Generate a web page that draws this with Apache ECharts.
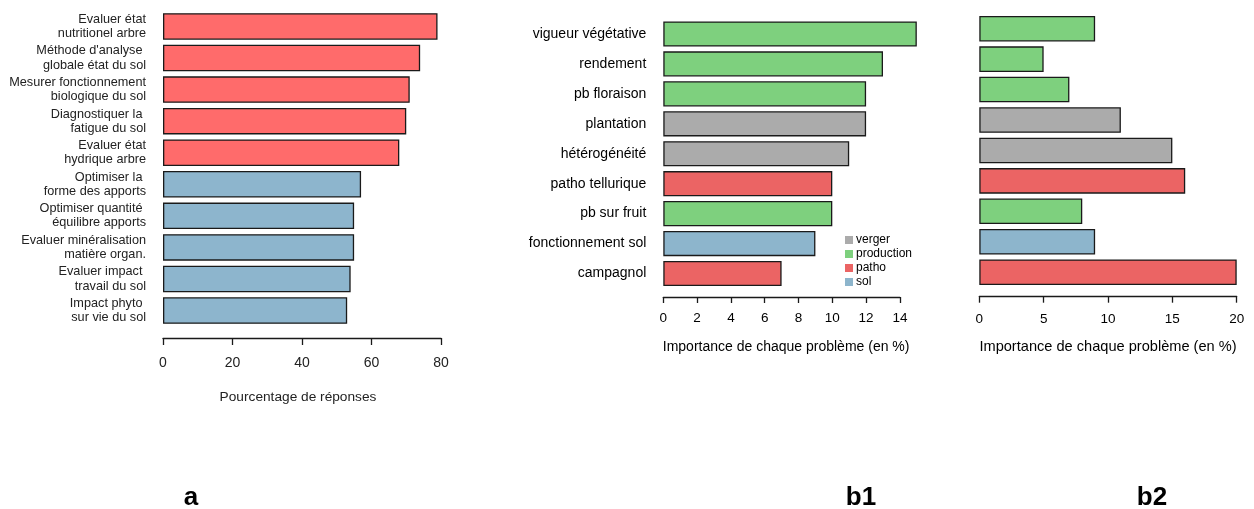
<!DOCTYPE html>
<html>
<head>
<meta charset="utf-8">
<script src="https://cdn.jsdelivr.net/npm/echarts@6/dist/echarts.min.js"></script>
<style>
html,body{margin:0;padding:0;background:#fff;}
#chart{width:1254px;height:509px;}
</style>
</head>
<body>
<div id="chart"></div>
<script>
// ---------- DATA ----------
var categoriesA = [
  "Evaluer état\nnutritionel arbre",
  "Méthode d'analyse \nglobale état du sol",
  "Mesurer fonctionnement\nbiologique du sol",
  "Diagnostiquer la \nfatigue du sol",
  "Evaluer état\nhydrique arbre",
  "Optimiser la \nforme des apports",
  "Optimiser quantité \néquilibre apports",
  "Evaluer minéralisation\nmatière organ.",
  "Evaluer impact \ntravail du sol",
  "Impact phyto \nsur vie du sol"
];
var valuesA = [79, 74, 71, 70, 68, 57, 55, 55, 54, 53];
var groupsA = ["g1", "g1", "g1", "g1", "g1", "g2", "g2", "g2", "g2", "g2"];
var ticksA = [0, 20, 40, 60, 80];

var categoriesB = [
  "vigueur végétative", "rendement", "pb floraison", "plantation",
  "hétérogénéité", "patho tellurique", "pb sur fruit",
  "fonctionnement sol", "campagnol"
];
var valuesB1 = [15, 13, 12, 12, 11, 10, 10, 9, 7];
var valuesB2 = [9, 5, 7, 11, 15, 16, 8, 9, 20];
var groupsB = ["production", "production", "production", "verger", "verger",
               "patho", "production", "sol", "patho"];
var legendB = ["verger", "production", "patho", "sol"];
var ticksB1 = [0, 2, 4, 6, 8, 10, 12, 14];
var ticksB2 = [0, 5, 10, 15, 20];

var titleA = "Pourcentage de réponses";
var titleB = "Importance de chaque problème (en %)";
var panelLabels = ["a", "b1", "b2"];

// ---------- STYLE ----------
var FONT = "Liberation Sans, Arial, sans-serif";
var colorsA = { g1: "#FF6B6B", g2: "#8DB5CD" };
var colorsB = { verger: "#ABABAB", production: "#7ED07E", patho: "#EB6464", sol: "#8DB5CC" };
var BORDER = { borderColor: "#1a1a1a", borderWidth: 1.3 };

function seriesForGroup(vals, xi, yi) {
  return legendB.map(function (g) {
    return {
      type: "bar", name: g, xAxisIndex: xi, yAxisIndex: yi,
      barGap: "-100%", barCategoryGap: "16%",
      itemStyle: Object.assign({ color: colorsB[g] }, BORDER),
      data: vals.map(function (v, i) { return groupsB[i] === g ? v : "-"; }),
      silent: true
    };
  });
}

var axisLineStyle = { lineStyle: { color: "#1a1a1a", width: 1.3 } };
var panelText = { fontFamily: FONT, fontWeight: "bold", fontSize: 26, color: "#000" };

var option = {
  backgroundColor: "#fff",
  animation: false,
  textStyle: { fontFamily: FONT },
  title: [
    { text: panelLabels[0], left: 186, top: 480, textAlign: "center", textStyle: panelText },
    { text: panelLabels[1], left: 856, top: 480, textAlign: "center", textStyle: panelText },
    { text: panelLabels[2], left: 1147, top: 480, textAlign: "center", textStyle: panelText }
  ],
  legend: {
    orient: "vertical", left: 845, top: 234,
    data: legendB, icon: "rect", itemWidth: 8, itemHeight: 8, itemGap: 2,
    padding: 0,
    textStyle: { fontFamily: FONT, fontSize: 12, color: "#000", lineHeight: 12, padding: [0, 0, 0, -2] },
    itemStyle: { borderWidth: 0 }
  },
  grid: [
    { left: 163, top: 10.7, width: 278, height: 315.6 },
    { left: 663.3, top: 19, width: 253.5, height: 269.5 },
    { left: 663.3, top: 19, width: 236.6, height: 269.5 },
    { left: 979.3, top: 13.5, width: 257.4, height: 273.9 }
  ],
  xAxis: [
    { type: "value", gridIndex: 0, min: ticksA[0], max: ticksA[ticksA.length - 1], interval: 20,
      offset: 11.7, splitLine: { show: false },
      axisLine: Object.assign({ show: true }, axisLineStyle),
      axisTick: { show: true, length: 7, lineStyle: { color: "#1a1a1a", width: 1.3 } },
      axisLabel: { fontSize: 14, color: "#222", margin: 18, fontFamily: FONT },
      name: titleA, nameLocation: "middle", nameGap: 52,
      nameTextStyle: { fontSize: 13.7, color: "#222", fontFamily: FONT, padding: [0, 8, 0, 0] } },
    { type: "value", gridIndex: 1, min: 0, max: 15, show: false },
    { type: "value", gridIndex: 2, min: ticksB1[0], max: ticksB1[ticksB1.length - 1], interval: 2,
      offset: 8.5, splitLine: { show: false },
      axisLine: Object.assign({ show: true }, axisLineStyle),
      axisTick: { show: true, length: 6, lineStyle: { color: "#1a1a1a", width: 1.3 } },
      axisLabel: { fontSize: 13.5, color: "#000", margin: 14.5, fontFamily: FONT },
      name: titleB, nameLocation: "middle", nameGap: 43.5,
      nameTextStyle: { fontSize: 14, color: "#000", fontFamily: FONT, padding: [0, 0, 0, 9] } },
    { type: "value", gridIndex: 3, min: ticksB2[0], max: ticksB2[ticksB2.length - 1], interval: 5,
      offset: 9.3, splitLine: { show: false },
      axisLine: Object.assign({ show: true }, axisLineStyle),
      axisTick: { show: true, length: 6, lineStyle: { color: "#1a1a1a", width: 1.3 } },
      axisLabel: { fontSize: 13.5, color: "#000", margin: 15.5, fontFamily: FONT },
      name: titleB, nameLocation: "middle", nameGap: 43,
      nameTextStyle: { fontSize: 14.6, color: "#000", fontFamily: FONT } }
  ],
  yAxis: [
    { type: "category", gridIndex: 0, data: categoriesA, inverse: true,
      axisLine: { show: false }, axisTick: { show: false },
      axisLabel: { fontSize: 12.7, lineHeight: 14.3, color: "#222", margin: 17, align: "right", fontFamily: FONT } },
    { type: "category", gridIndex: 1, data: categoriesB, inverse: true,
      axisLine: { show: false }, axisTick: { show: false },
      axisLabel: { fontSize: 14, color: "#000", margin: 17, fontFamily: FONT } },
    { type: "category", gridIndex: 2, data: categoriesB, inverse: true, show: false },
    { type: "category", gridIndex: 3, data: categoriesB, inverse: true, show: false }
  ],
  series: [
    { type: "bar", xAxisIndex: 0, yAxisIndex: 0, barCategoryGap: "16%", silent: true,
      data: valuesA.map(function (v, i) {
        return { value: v, itemStyle: Object.assign({ color: colorsA[groupsA[i]] }, BORDER) };
      }) }
  ].concat(seriesForGroup(valuesB1, 1, 1))
   .concat(seriesForGroup(valuesB2, 3, 3))
};

var chart = echarts.init(document.getElementById("chart"), null, { renderer: "canvas" });
chart.setOption(option);
</script>
</body>
</html>
